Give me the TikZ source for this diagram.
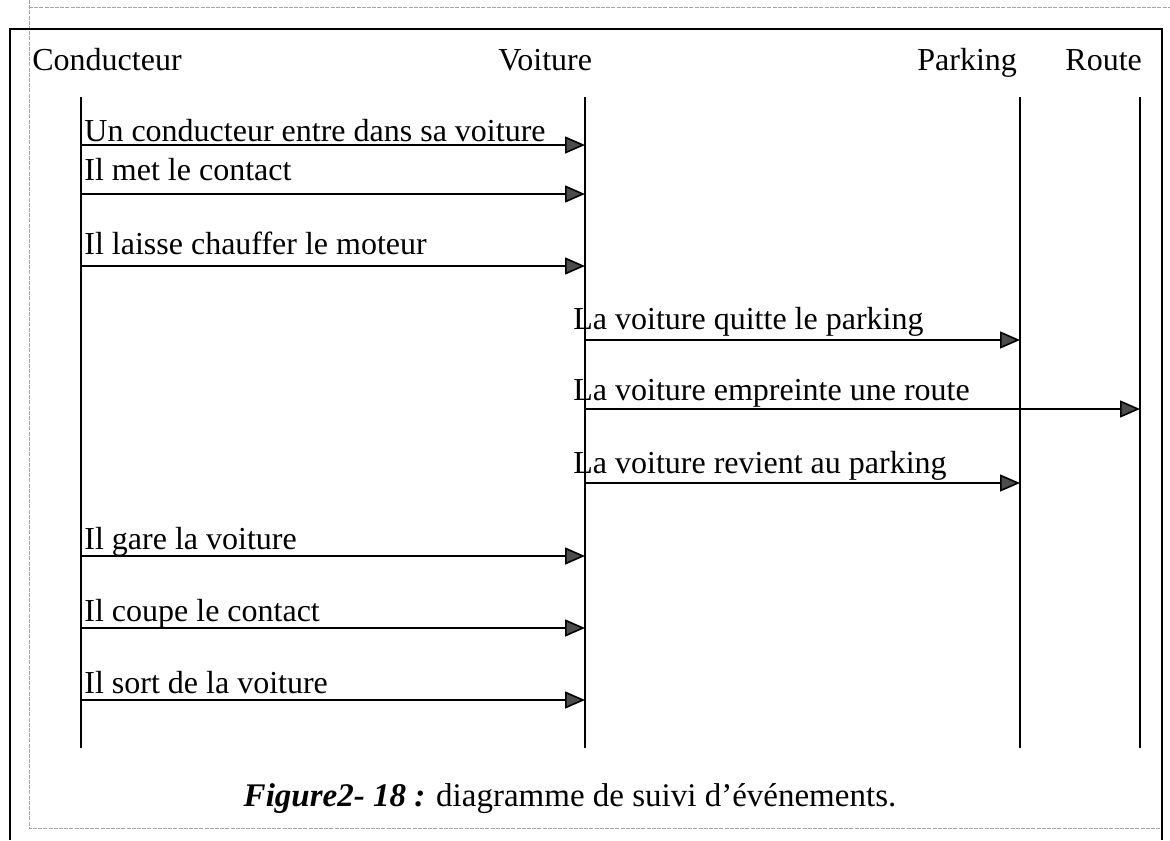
\documentclass[tikz,border=0pt]{standalone}
\usepackage{fontspec}
\setmainfont{Liberation Serif}
\usetikzlibrary{arrows.meta}
\begin{document}
\begin{tikzpicture}[x=0.5pt,y=-0.5pt,
  every node/.style={inner sep=0pt,font=\fontsize{16}{19}\selectfont},
  lifeline/.style={line width=1pt,black},
  msg/.style={line width=0.8pt,-{Triangle[length=10pt,width=8.5pt,fill=black!70]}},
  msglabel/.style={anchor=base west},
  header/.style={anchor=base west},
  guide/.style={black!35,line width=0.5pt,dash pattern=on 2pt off 0.6pt}]
\useasboundingbox (0,0) rectangle (1170,840);
% page guides and frame
\draw[guide] (29,0) -- (29,828) -- (1163,828);
\draw[guide] (29,8) -- (1170,8);
\draw[line width=1pt] (10,840) -- (10,29) -- (1162,29) -- (1162,840);

% object headers
\node[header] (hC) at (32,70) {Conducteur};
\node[header] (hV) at (498,70) {Voiture};
\node[header] (hP) at (917,70) {Parking};
\node[header] (hR) at (1065,70) {Route};

% lifelines
\coordinate (cT) at (81,97);  \coordinate (cB) at (81,748);
\coordinate (vT) at (585,97); \coordinate (vB) at (585,748);
\coordinate (pT) at (1020,97); \coordinate (pB) at (1020,748);
\coordinate (rT) at (1140,97); \coordinate (rB) at (1140,748);
\draw[lifeline] (cT) -- (cB);
\draw[lifeline] (vT) -- (vB);
\draw[lifeline] (pT) -- (pB);
\draw[lifeline] (rT) -- (rB);

% messages
\coordinate (m1s) at (81,145); \coordinate (m1e) at (585,145);
\coordinate (m2s) at (81,194); \coordinate (m2e) at (585,194);
\coordinate (m3s) at (81,266); \coordinate (m3e) at (585,266);
\coordinate (m4s) at (585,340); \coordinate (m4e) at (1020,340);
\coordinate (m5s) at (585,409); \coordinate (m5e) at (1140,409);
\coordinate (m6s) at (585,483); \coordinate (m6e) at (1020,483);
\coordinate (m7s) at (81,556); \coordinate (m7e) at (585,556);
\coordinate (m8s) at (81,628); \coordinate (m8e) at (585,628);
\coordinate (m9s) at (81,700); \coordinate (m9e) at (585,700);

\draw[msg] (m1s) -- (m1e);
\draw[msg] (m2s) -- (m2e);
\draw[msg] (m3s) -- (m3e);
\draw[msg] (m4s) -- (m4e);
\draw[msg] (m5s) -- (m5e);
\draw[msg] (m6s) -- (m6e);
\draw[msg] (m7s) -- (m7e);
\draw[msg] (m8s) -- (m8e);
\draw[msg] (m9s) -- (m9e);

\node[msglabel] (l1) at (84,141) {Un conducteur entre dans sa voiture};
\node[msglabel] (l2) at (84,180) {Il met le contact};
\node[msglabel] (l3) at (84,254) {Il laisse chauffer le moteur};
\node[msglabel] (l4) at (573,329) {La voiture quitte le parking};
\node[msglabel] (l5) at (573,400) {La voiture empreinte une route};
\node[msglabel] (l6) at (573,473) {La voiture revient au parking};
\node[msglabel] (l7) at (84,549) {Il gare la voiture};
\node[msglabel] (l8) at (84,621) {Il coupe le contact};
\node[msglabel] (l9) at (84,693) {Il sort de la voiture};

% caption
\node[anchor=base,font=\fontsize{16.5}{19}\selectfont] (cap) at (570,806) {\textbf{\textit{Figure2- 18 :}} diagramme de suivi d’événements.};
\end{tikzpicture}
\end{document}
